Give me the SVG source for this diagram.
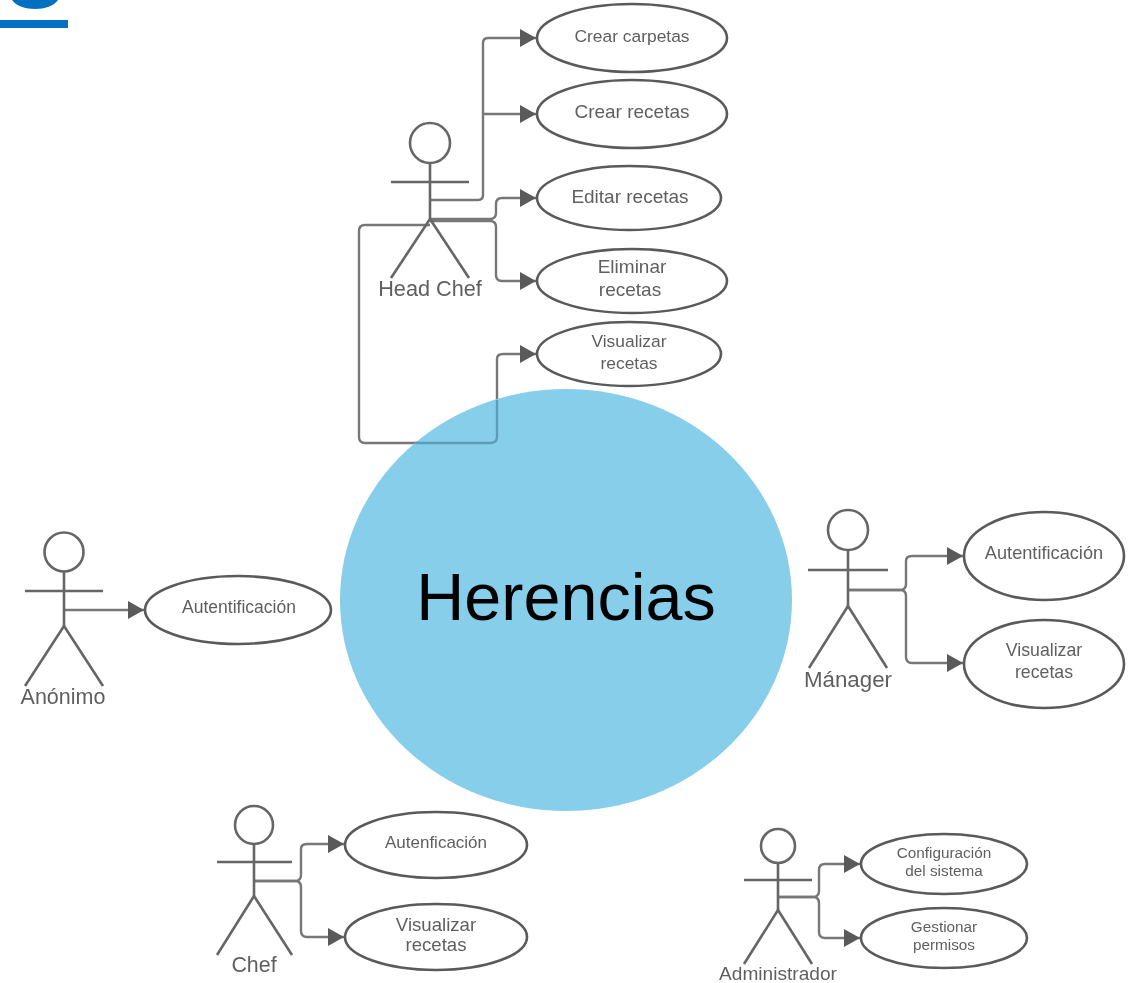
<svg xmlns="http://www.w3.org/2000/svg" width="1138" height="983" viewBox="0 0 1138 983">
<style>
text{font-family:"Liberation Sans",Arial,sans-serif;fill:#5f5f5f;text-anchor:middle}
.a line,.a circle{fill:#fff;stroke:#666;stroke-width:2.6}
.a line{fill:none}
.u ellipse{fill:#fff;stroke:#5a5a5a;stroke-width:2.6}
.c path{fill:none;stroke:#777;stroke-width:2.4;stroke-linejoin:round}
</style>
<defs>
<marker id="h" markerUnits="userSpaceOnUse" markerWidth="18" markerHeight="20" refX="17" refY="10" orient="auto"><path d="M1 1L17 10L1 19Z" fill="#5a5a5a"/></marker>
<filter id="soft" filterUnits="userSpaceOnUse" x="0" y="0" width="1138" height="983"><feGaussianBlur stdDeviation="0.55"/></filter>
</defs>
<g id="logo"><path d="M12 0C20 12 50 12 58 0Z" fill="#0070c0"/><rect x="0" y="20" width="68" height="8" fill="#0070c0"/></g>
<g id="diagram" filter="url(#soft)">
<g id="connectors" class="c">
<path d="M430 200H478Q483 200 483 195V43Q483 38 488 38H536" marker-end="url(#h)"/>
<path d="M483 114H536" marker-end="url(#h)"/>
<path d="M430 219H490Q496 219 496 213V204Q496 198 502 198H536" marker-end="url(#h)"/>
<path d="M430 221H490Q496 221 496 227V275Q496 281 502 281H536" marker-end="url(#h)"/>
<path d="M430 225H365Q359 225 359 231V437Q359 443 365 443H490Q497 443 497 437V359Q497 354 503 354H536" marker-end="url(#h)"/>
<path d="M63 610H144" marker-end="url(#h)"/>
<path d="M848 590H900Q906 590 906 584V561Q906 556 912 556H963" marker-end="url(#h)"/>
<path d="M848 590H900Q906 590 906 596V657Q906 663 912 663H963" marker-end="url(#h)"/>
<path d="M254 881H295Q301 881 301 875V849Q301 844 307 844H344" marker-end="url(#h)"/>
<path d="M254 881H295Q301 881 301 887V931Q301 937 307 937H344" marker-end="url(#h)"/>
<path d="M778 897H813Q819 897 819 891V870Q819 864 825 864H860" marker-end="url(#h)"/>
<path d="M778 897H813Q819 897 819 903V932Q819 938 825 938H860" marker-end="url(#h)"/>
</g>
<g id="actor-head-chef" class="a"><line x1="430" y1="163" x2="430" y2="219"/><line x1="391" y1="182" x2="469" y2="182"/><line x1="430" y1="219" x2="391" y2="278"/><line x1="430" y1="219" x2="469" y2="278"/><circle cx="430" cy="143" r="20"/><text x="430" y="296" font-size="21.7">Head Chef</text></g>
<g id="actor-anonimo" class="a"><line x1="64" y1="572" x2="64" y2="626"/><line x1="25" y1="591" x2="103" y2="591"/><line x1="64" y1="626" x2="25" y2="686"/><line x1="64" y1="626" x2="103" y2="686"/><circle cx="64" cy="552" r="19.5"/><text x="63" y="704" font-size="21.5">Anónimo</text></g>
<g id="actor-manager" class="a"><line x1="848" y1="550" x2="848" y2="606"/><line x1="808" y1="570" x2="888" y2="570"/><line x1="848" y1="606" x2="809" y2="668"/><line x1="848" y1="606" x2="887" y2="668"/><circle cx="848" cy="530" r="20"/><text x="848" y="687" font-size="22.3">Mánager</text></g>
<g id="actor-chef" class="a"><line x1="254" y1="844" x2="254" y2="896"/><line x1="217" y1="862" x2="292" y2="862"/><line x1="254" y1="896" x2="217" y2="955"/><line x1="254" y1="896" x2="292" y2="955"/><circle cx="254" cy="825" r="19"/><text x="254" y="972" font-size="21.4">Chef</text></g>
<g id="actor-admin" class="a"><line x1="778" y1="863" x2="778" y2="910"/><line x1="744" y1="880" x2="812" y2="880"/><line x1="778" y1="910" x2="744" y2="964"/><line x1="778" y1="910" x2="812" y2="964"/><circle cx="778" cy="846" r="17"/><text x="778" y="980" font-size="19.1">Administrador</text></g>
<g id="uc-crear-carpetas" class="u"><ellipse cx="632" cy="38" rx="95" ry="34"/><text x="632" y="42" font-size="17.4">Crear carpetas</text></g>
<g id="uc-crear-recetas" class="u"><ellipse cx="632" cy="114" rx="95" ry="34"/><text x="632" y="118" font-size="19">Crear recetas</text></g>
<g id="uc-editar" class="u"><ellipse cx="629" cy="198" rx="92" ry="32"/><text x="630" y="203" font-size="19">Editar recetas</text></g>
<g id="uc-eliminar" class="u"><ellipse cx="632" cy="281" rx="95" ry="32"/><text x="632" y="273" font-size="19">Eliminar</text><text x="630" y="296" font-size="19">recetas</text></g>
<g id="uc-visualizar-hc" class="u"><ellipse cx="629" cy="354" rx="92" ry="32"/><text x="629" y="347" font-size="17.4">Visualizar</text><text x="629" y="369" font-size="17.4">recetas</text></g>
<g id="uc-auth-anon" class="u"><ellipse cx="238" cy="610" rx="93" ry="34"/><text x="239" y="613" font-size="17.5">Autentificación</text></g>
<g id="uc-auth-manager" class="u"><ellipse cx="1044" cy="556" rx="80" ry="44"/><text x="1044" y="559" font-size="18.2">Autentificación</text></g>
<g id="uc-visualizar-manager" class="u"><ellipse cx="1044" cy="664" rx="80" ry="44"/><text x="1044" y="656" font-size="17.7">Visualizar</text><text x="1044" y="678" font-size="17.7">recetas</text></g>
<g id="uc-auth-chef" class="u"><ellipse cx="436" cy="845" rx="91" ry="33"/><text x="436" y="848" font-size="17">Autenficación</text></g>
<g id="uc-visualizar-chef" class="u"><ellipse cx="436" cy="937" rx="91" ry="33"/><text x="436" y="931" font-size="18.6">Visualizar</text><text x="436" y="951" font-size="18.6">recetas</text></g>
<g id="uc-config" class="u"><ellipse cx="944" cy="864" rx="83" ry="30"/><text x="944" y="858" font-size="15.3">Configuración</text><text x="944" y="876" font-size="15.3">del sistema</text></g>
<g id="uc-permisos" class="u"><ellipse cx="944" cy="938" rx="83" ry="30"/><text x="944" y="932" font-size="15.3">Gestionar</text><text x="944" y="950" font-size="15.3">permisos</text></g>
</g>
<g id="herencias"><ellipse cx="566" cy="600" rx="226" ry="211" fill="#87ceeb"/>
<path d="M415 443H490Q497 443 497 437V400" fill="none" stroke="#5b9db5" stroke-width="2.4"/>
<text x="566" y="620" font-size="66.5" style="fill:#000">Herencias</text></g>
</svg>
